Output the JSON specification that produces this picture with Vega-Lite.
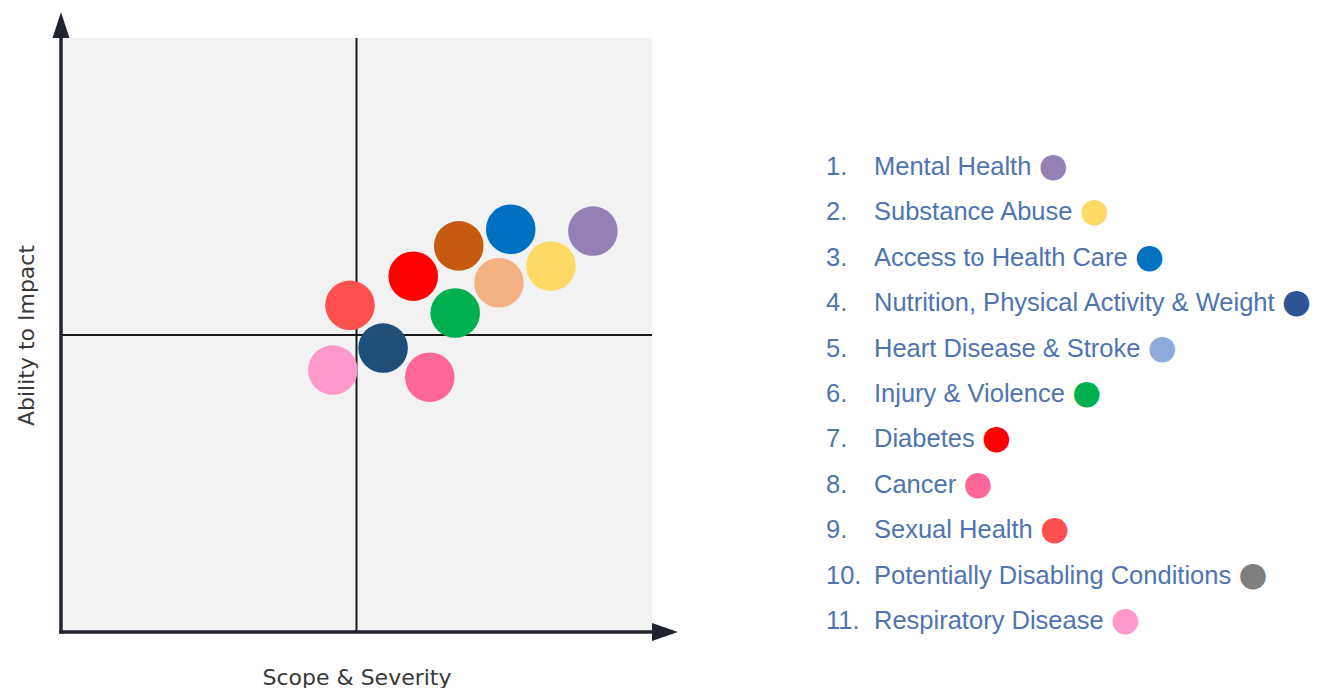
{
  "$schema": "https://vega.github.io/schema/vega-lite/v6.json",
  "background": "white",
  "padding": {"left": 15, "top": 12, "right": 8, "bottom": 0},
  "config": {"view": {"stroke": null}, "font": "Liberation Sans"},
  "datasets": {
    "issues": [
      {"rank": 11, "num": "11.", "label": "Respiratory Disease", "scope": 4.6, "impact": 4.41},
      {"rank": 9, "num": "9.", "label": "Sexual Health", "scope": 4.89, "impact": 5.5},
      {"rank": 4, "num": "4.", "label": "Nutrition, Physical Activity & Weight", "scope": 5.45, "impact": 4.78},
      {"rank": 8, "num": "8.", "label": "Cancer", "scope": 6.24, "impact": 4.29},
      {"rank": 7, "num": "7.", "label": "Diabetes", "scope": 5.96, "impact": 5.99},
      {"rank": 5, "num": "5.", "label": "Heart Disease & Stroke", "scope": 6.73, "impact": 6.5},
      {"rank": 3, "num": "3.", "label": "Access to Health Care", "scope": 7.61, "impact": 6.78},
      {"rank": 10, "num": "10.", "label": "Potentially Disabling Conditions", "scope": 7.41, "impact": 5.88},
      {"rank": 2, "num": "2.", "label": "Substance Abuse", "scope": 8.29, "impact": 6.16},
      {"rank": 1, "num": "1.", "label": "Mental Health", "scope": 9.0, "impact": 6.75},
      {"rank": 6, "num": "6.", "label": "Injury & Violence", "scope": 6.67, "impact": 5.37}
    ],
    "cross": [
      {"scope": 5, "scope2": 5, "impact": 0, "impact2": 10},
      {"scope": 0, "scope2": 10, "impact": 5, "impact2": 5}
    ],
    "axes": [
      {"scope": 0, "scope2": 0, "impact": 0, "impact2": 10},
      {"scope": 0, "scope2": 10, "impact": 0, "impact2": 0}
    ],
    "arrows": [
      {"scope": 0, "impact": 10, "dir": "up"},
      {"scope": 10, "impact": 0, "dir": "right"}
    ]
  },
  "spacing": 148,
  "resolve": {"scale": {"x": "independent", "y": "independent", "color": "independent", "fill": "independent", "stroke": "independent"}},
  "hconcat": [
    {
      "width": 591,
      "height": 594,
      "view": {"fill": "#f2f2f2", "stroke": null},
      "encoding": {
        "x": {"field": "scope", "type": "quantitative",
          "scale": {"domain": [0, 10], "nice": false, "zero": false},
          "axis": {"title": "Scope & Severity", "labels": false, "ticks": false, "domain": false, "grid": false,
            "titleFont": "DejaVu Sans", "titleFontSize": 22, "titleFontWeight": "normal", "titleColor": "#383838", "titlePadding": 35}},
        "y": {"field": "impact", "type": "quantitative",
          "scale": {"domain": [0, 10], "nice": false, "zero": false},
          "axis": {"title": "Ability to Impact", "labels": false, "ticks": false, "domain": false, "grid": false,
            "titleFont": "DejaVu Sans", "titleFontSize": 22, "titleFontWeight": "normal", "titleColor": "#383838", "titlePadding": 23}}
      },
      "layer": [
        {
          "data": {"name": "cross"},
          "mark": {"type": "rule", "color": "#1a1a1a", "strokeWidth": 2},
          "encoding": {"x2": {"field": "scope2"}, "y2": {"field": "impact2"}}
        },
        {
          "data": {"name": "axes"},
          "mark": {"type": "rule", "color": "#1f2430", "strokeWidth": 3.5, "strokeCap": "square"},
          "encoding": {"x2": {"field": "scope2"}, "y2": {"field": "impact2"}}
        },
        {
          "data": {"name": "arrows"},
          "mark": {"type": "point", "filled": true, "opacity": 1, "color": "#1f2430", "size": 676},
          "encoding": {
            "shape": {"field": "dir", "type": "nominal",
              "scale": {"domain": ["up", "right"], "range": ["M0,-2L0.65,0L-0.65,0Z", "M2,0L0,-0.7L0,0.7Z"]},
              "legend": null}
          }
        },
        {
          "data": {"name": "issues"},
          "mark": {"type": "point", "filled": true, "opacity": 1, "size": 2460},
          "encoding": {
            "color": {"field": "label", "type": "nominal",
              "scale": {
                "domain": ["Mental Health", "Substance Abuse", "Access to Health Care", "Nutrition, Physical Activity & Weight", "Heart Disease & Stroke", "Injury & Violence", "Diabetes", "Cancer", "Sexual Health", "Potentially Disabling Conditions", "Respiratory Disease"],
                "range": ["#9580b6", "#ffd966", "#0070c0", "#1f4e79", "#c55a11", "#00b050", "#ff0000", "#ff6699", "#ff5050", "#f4b183", "#ff99cc"]
              },
              "legend": null}
          }
        }
      ]
    },
    {
      "width": 480,
      "height": 594,
      "data": {"name": "issues"},
      "encoding": {
        "y": {"field": "rank", "type": "quantitative",
          "scale": {"domain": [-1.84, 11.24], "reverse": true, "nice": false, "zero": false},
          "axis": null}
      },
      "layer": [
        {
          "mark": {"type": "text", "align": "left", "baseline": "middle", "fontSize": 25.5, "font": "Liberation Sans", "color": "#4f74b0"},
          "encoding": {
            "x": {"datum": 0, "type": "quantitative", "scale": {"domain": [0, 10], "nice": false, "zero": false}, "axis": null},
            "text": {"field": "num", "type": "nominal"}
          }
        },
        {
          "mark": {"type": "text", "align": "left", "baseline": "middle", "fontSize": 25.5, "font": "Liberation Sans",
            "strokeWidth": 14.5, "strokeJoin": "round",
            "text": {"expr": "datum.label + '\u00a0\u00a0\u25cf'"}},
          "encoding": {
            "x": {"datum": 1, "type": "quantitative", "scale": {"domain": [0, 10], "nice": false, "zero": false}, "axis": null},
            "fill": {"field": "label", "type": "nominal",
              "scale": {
                "domain": ["Mental Health", "Substance Abuse", "Access to Health Care", "Nutrition, Physical Activity & Weight", "Heart Disease & Stroke", "Injury & Violence", "Diabetes", "Cancer", "Sexual Health", "Potentially Disabling Conditions", "Respiratory Disease"],
                "range": ["#9580b6", "#ffd966", "#0070c0", "#2f5597", "#8eaadb", "#00b050", "#ff0000", "#ff6699", "#ff5050", "#7f7f7f", "#ff99cc"]
              },
              "legend": null},
            "stroke": {"field": "label", "type": "nominal",
              "scale": {
                "domain": ["Mental Health", "Substance Abuse", "Access to Health Care", "Nutrition, Physical Activity & Weight", "Heart Disease & Stroke", "Injury & Violence", "Diabetes", "Cancer", "Sexual Health", "Potentially Disabling Conditions", "Respiratory Disease"],
                "range": ["#9580b6", "#ffd966", "#0070c0", "#2f5597", "#8eaadb", "#00b050", "#ff0000", "#ff6699", "#ff5050", "#7f7f7f", "#ff99cc"]
              },
              "legend": null}
          }
        },
        {
          "mark": {"type": "text", "align": "left", "baseline": "middle", "fontSize": 25.5, "font": "Liberation Sans",
            "fill": "white", "stroke": "white", "strokeWidth": 18, "strokeJoin": "round"},
          "encoding": {
            "x": {"datum": 1, "type": "quantitative", "scale": {"domain": [0, 10], "nice": false, "zero": false}, "axis": null},
            "text": {"field": "label", "type": "nominal"}
          }
        },
        {
          "mark": {"type": "text", "align": "left", "baseline": "middle", "fontSize": 25.5, "font": "Liberation Sans", "color": "#4f74b0"},
          "encoding": {
            "x": {"datum": 1, "type": "quantitative", "scale": {"domain": [0, 10], "nice": false, "zero": false}, "axis": null},
            "text": {"field": "label", "type": "nominal"}
          }
        }
      ]
    }
  ]
}
